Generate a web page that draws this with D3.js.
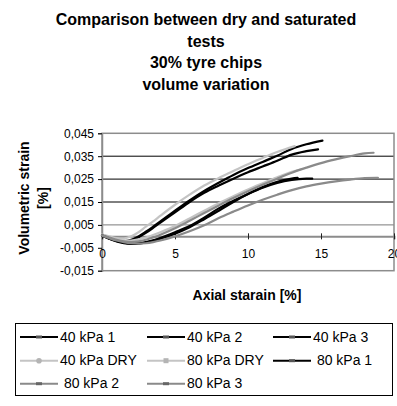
<!DOCTYPE html>
<html>
<head>
<meta charset="utf-8">
<script src="https://cdn.jsdelivr.net/npm/d3@7"></script>
<style>
  html, body { margin: 0; padding: 0; background: #fff; }
  svg { display: block; font-family: Arial, "Liberation Sans", sans-serif; }
</style>
</head>
<body>
<svg id="chart" width="397" height="406"></svg>
<script>
// values: [axial strain %, volumetric strain]
const kpa40_1 = [[0, 0.0005], [0.5, -0.0008], [1, -0.0018], [1.5, -0.0022], [2, -0.0015], [2.5, 0.0], [3, 0.002], [3.5, 0.0042], [4, 0.0065], [5, 0.0112], [6, 0.0157], [7, 0.0198], [8, 0.0234], [9, 0.0268], [10, 0.0298], [11, 0.0325], [12, 0.0352], [13, 0.0382], [14, 0.0402], [15.1, 0.0418]]
const kpa40_2 = [[0, 0.0005], [0.5, -0.001], [1, -0.002], [1.5, -0.0024], [2, -0.0018], [2.5, -0.0004], [3, 0.0015], [3.5, 0.0037], [4, 0.006], [5, 0.0105], [6, 0.015], [7, 0.019], [8, 0.0222], [9, 0.0252], [10, 0.028], [11, 0.0305], [12, 0.033], [13, 0.0357], [14, 0.0372], [14.8, 0.038]]
const kpa40_3 = [[0, 0.0003], [0.5, -0.001], [1, -0.0022], [1.5, -0.003], [2, -0.0033], [2.5, -0.0032], [3, -0.0027], [3.5, -0.0019], [4, -0.001], [5, 0.0012], [6, 0.004], [7, 0.0075], [8, 0.0112], [9, 0.015], [10, 0.0185], [11, 0.0215], [12, 0.0238], [13, 0.0252], [13.4, 0.0255]]
const kpa40_dry = [[0, 0.0008], [0.5, 0.0], [1, -0.0008], [1.5, -0.001], [2, 0.0], [2.5, 0.0018], [3, 0.0042], [3.5, 0.0065], [4, 0.009], [5, 0.0138], [6, 0.0182], [7, 0.0222], [8, 0.0255], [9, 0.0285], [10, 0.0315], [11, 0.0342], [12, 0.0368], [13.2, 0.0394]]
const kpa80_dry = [[0, 0.0008], [0.5, -0.0003], [1, -0.0013], [1.5, -0.0018], [2, -0.0018], [2.5, -0.0013], [3, -0.0005], [3.5, 0.0006], [4, 0.0018], [5, 0.0045], [6, 0.0078], [7, 0.0112], [8, 0.0145], [9, 0.0175], [10, 0.0205], [11, 0.0232], [12, 0.0258], [13, 0.0282], [13.6, 0.0292]]
const kpa80_1 = [[0, 0.0005], [0.5, -0.0008], [1, -0.002], [1.5, -0.0028], [2, -0.0031], [2.5, -0.003], [3, -0.0025], [3.5, -0.0017], [4, -0.0007], [5, 0.0018], [6, 0.0045], [7, 0.0082], [8, 0.0122], [9, 0.0155], [10, 0.0185], [11, 0.0212], [12, 0.0233], [13, 0.0246], [14, 0.0252], [14.4, 0.0252]]
const kpa80_2 = [[0, 0.0005], [0.5, -0.0005], [1, -0.0015], [1.5, -0.0022], [2, -0.0025], [2.5, -0.0022], [3, -0.0015], [3.5, -0.0005], [4, 0.0007], [5, 0.0035], [6, 0.0068], [7, 0.0102], [8, 0.0135], [9, 0.0167], [10, 0.0197], [11, 0.0225], [12, 0.0252], [13, 0.0278], [14, 0.03], [15, 0.032], [16, 0.0336], [17, 0.035], [18, 0.0362], [18.6, 0.0365]]
const kpa80_3 = [[0, 0.0003], [0.5, -0.0008], [1, -0.0018], [1.5, -0.0025], [2, -0.003], [2.5, -0.0032], [3, -0.003], [3.5, -0.0025], [4, -0.0018], [5, 0.0], [6, 0.0022], [7, 0.0048], [8, 0.008], [9, 0.0108], [10, 0.0135], [11, 0.016], [12, 0.0182], [13, 0.0202], [14, 0.0218], [15, 0.023], [16, 0.024], [17, 0.0248], [18, 0.0254], [18.9, 0.0255]]

const seriesNames = ["40 kPa 1", "40 kPa 2", "40 kPa 3", "40 kPa DRY", "80 kPa DRY", " 80 kPa 1", " 80 kPa 2", "80 kPa 3"]
const xTicks = [0, 5, 10, 15, 20]
const yTicks = [-0.015, -0.005, 0.005, 0.015, 0.025, 0.035, 0.045]
const titleLines = ["Comparison between dry and saturated", "tests", "30% tyre chips", "volume variation"]

const series = [
  { name: seriesNames[0], data: kpa40_1, color: "#000", marker: "dash" },
  { name: seriesNames[1], data: kpa40_2, color: "#000", marker: "dash" },
  { name: seriesNames[2], data: kpa40_3, color: "#000", marker: "dash" },
  { name: seriesNames[3], data: kpa40_dry, color: "#c4c4c4", marker: "circle" },
  { name: seriesNames[4], data: kpa80_dry, color: "#c4c4c4", marker: "square" },
  { name: seriesNames[5], data: kpa80_1, color: "#000", marker: "dash" },
  { name: seriesNames[6], data: kpa80_2, color: "#8a8a8a", marker: "dash" },
  { name: seriesNames[7], data: kpa80_3, color: "#8a8a8a", marker: "dash" }
]

const svg = d3.select("#chart")
const font = "Arial, 'Liberation Sans', sans-serif"

const x = d3.scaleLinear().domain([0, 20]).range([102, 394])
const y = d3.scaleLinear().domain([-0.015, 0.045]).range([270.7, 133.3])

const loc = d3.formatLocale({ decimal: ",", thousands: ".", grouping: [3], currency: ["", ""], minus: "-" })
const fmtY = loc.format(".3f")

// title
svg.append("g")
  .selectAll("text")
  .data(titleLines)
  .join("text")
  .attr("x", 206)
  .attr("y", (d, i) => 25 + i * 21.5)
  .attr("text-anchor", "middle")
  .attr("font-size", 16)
  .attr("font-weight", "bold")
  .text(d => d)

// grid lines (no line under the x axis)
svg.append("g")
  .selectAll("line")
  .data(yTicks.filter(d => d > 0 && d < 0.045))
  .join("line")
  .attr("x1", x(0))
  .attr("x2", x(20))
  .attr("y1", d => y(d))
  .attr("y2", d => y(d))
  .attr("stroke", d => d < 0.01 ? "#7a7a7a" : "#000")
  .attr("stroke-width", 1)

// plot border
svg.append("rect")
  .attr("x", x(0))
  .attr("y", y(0.045))
  .attr("width", x(20) - x(0))
  .attr("height", y(-0.015) - y(0.045))
  .attr("fill", "none")
  .attr("stroke", "#8c8c8c")
  .attr("stroke-width", 1.5)

// y axis
const yAxis = d3.axisLeft(y).tickValues(yTicks).tickSize(4).tickPadding(4).tickFormat(fmtY)
const gy = svg.append("g").attr("transform", `translate(${x(0)},0)`).call(yAxis)
gy.select(".domain").attr("stroke", "#8c8c8c").attr("stroke-width", 1.5)
gy.selectAll(".tick line").attr("stroke", "#000")
gy.selectAll(".tick text").attr("font-size", 12).attr("font-family", font).attr("fill", "#000")

// x axis sits at y = 0
const xAxis = d3.axisBottom(x).tickValues(xTicks).tickSize(3).tickFormat(d => d)
const gx = svg.append("g").attr("transform", `translate(0,${y(0)})`).call(xAxis)
gx.select(".domain").attr("stroke", "#8c8c8c").attr("stroke-width", 2)
gx.selectAll(".tick line").attr("y1", -3).attr("stroke", "#222")
gx.selectAll(".tick text").attr("font-size", 12).attr("font-family", font).attr("fill", "#000").attr("dy", "1.3em")

// axis titles
svg.append("text")
  .attr("x", 247)
  .attr("y", 300)
  .attr("text-anchor", "middle")
  .attr("font-size", 14)
  .attr("font-weight", "bold")
  .text("Axial starain [%]")

svg.append("g")
  .attr("transform", "translate(29,198) rotate(-90)")
  .selectAll("text")
  .data(["Volumetric strain", "[%]"])
  .join("text")
  .attr("x", 0)
  .attr("y", (d, i) => i * 19)
  .attr("text-anchor", "middle")
  .attr("font-size", 14)
  .attr("font-weight", "bold")
  .text(d => d)

// curves
const line = d3.line()
  .x(d => x(d[0]))
  .y(d => y(d[1]))
  .curve(d3.curveCatmullRom)

svg.append("g")
  .selectAll("path")
  .data(series)
  .join("path")
  .attr("d", d => line(d.data))
  .attr("fill", "none")
  .attr("stroke", d => d.color)
  .attr("stroke-width", 2.2)
  .attr("stroke-linejoin", "round")
  .attr("stroke-linecap", "round")

// legend
svg.append("rect")
  .attr("x", 15.5)
  .attr("y", 323.5)
  .attr("width", 377)
  .attr("height", 72)
  .attr("fill", "#fff")
  .attr("stroke", "#000")

const colX = [20, 147, 273]
const rowY = [337, 360.7, 383.7]

const item = svg.append("g")
  .selectAll("g")
  .data(series)
  .join("g")
  .attr("transform", (d, i) => `translate(${colX[i % 3]},${rowY[Math.floor(i / 3)]})`)

item.append("line")
  .attr("x1", 0)
  .attr("x2", 38)
  .attr("stroke", d => d.color)
  .attr("stroke-width", 2)

item.filter(d => d.marker === "dash")
  .append("rect")
  .attr("x", 16)
  .attr("y", -1.5)
  .attr("width", 6)
  .attr("height", 3)
  .attr("fill", d => d.color === "#000" ? "#555" : "#666")

item.filter(d => d.marker === "circle")
  .append("circle")
  .attr("cx", 19)
  .attr("r", 2.8)
  .attr("fill", "#b4b4b4")

item.filter(d => d.marker === "square")
  .append("rect")
  .attr("x", 16.5)
  .attr("y", -2.5)
  .attr("width", 5)
  .attr("height", 5)
  .attr("fill", "#b4b4b4")

item.append("text")
  .attr("x", 40)
  .attr("y", 4.5)
  .attr("font-size", 14)
  .attr("xml:space", "preserve")
  .style("white-space", "pre")
  .text(d => d.name)
</script>
</body>
</html>
